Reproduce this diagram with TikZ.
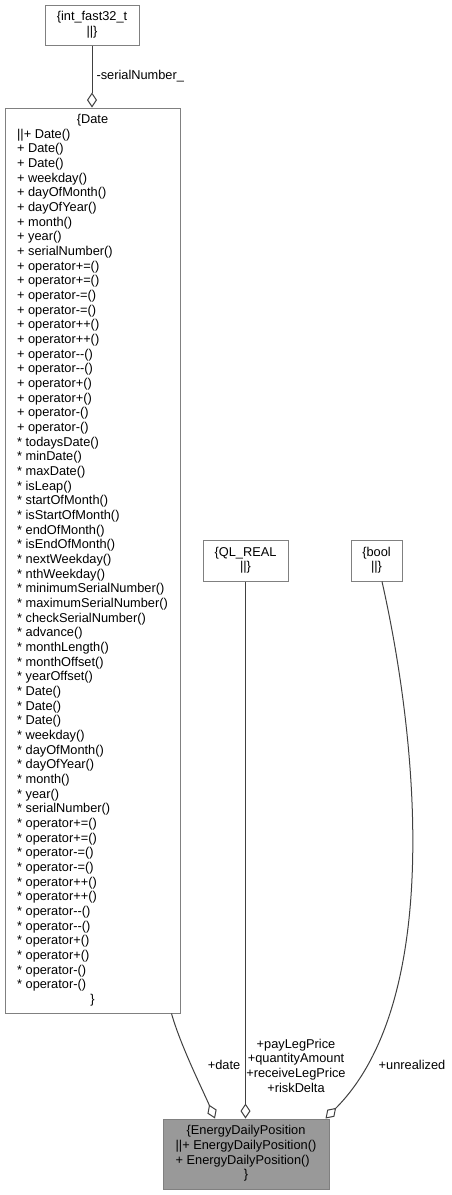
\documentclass[tikz,border=0pt]{standalone}
\usepackage{fontspec}
\setmainfont{Liberation Sans}
\usetikzlibrary{arrows.meta}
\definecolor{boxline}{HTML}{808080}
\definecolor{edgeline}{HTML}{404040}
\definecolor{focusfill}{HTML}{999999}
% keeps "--" from turning into an en dash
\newcommand\decr{-\kern0pt-}
% a leading star that the preceding \\ does not swallow
\newcommand\st{\relax*}
% centred first/last row inside a left-aligned member list
\newcommand\crow[1]{\multicolumn{1}{@{}c@{}}{#1}}
\begin{document}
\begin{tikzpicture}[x=1pt,y=-1pt,
  every node/.style={font=\fontsize{12.8}{14.67}\selectfont, text=black},
  classbox/.style={draw=boxline, line width=1pt, fill=white, inner sep=0pt},
  relation/.style={draw=edgeline, line width=1pt,
    -{Diamond[length=15pt,width=10pt,fill=white]}},
  rolelabel/.style={align=center, inner sep=0pt}
]
\useasboundingbox (0,0) rectangle (451,1195);

% classes
\node[classbox, minimum width=94pt, minimum height=40pt] (intf) at (92,25)
  {\begin{tabular}{@{}c@{}}\{int\_fast32\_t\\||\}\end{tabular}};

\node[classbox, minimum width=175pt, minimum height=905pt] (date) at (92.5,560.5)
  {\begin{tabular}{@{}l@{}}
  \crow{\{Date}\\
  ||+ Date()\\
  + Date()\\
  + Date()\\
  + weekday()\\
  + dayOfMonth()\\
  + dayOfYear()\\
  + month()\\
  + year()\\
  + serialNumber()\\
  + operator+=()\\
  + operator+=()\\
  + operator-=()\\
  + operator-=()\\
  + operator++()\\
  + operator++()\\
  + operator\decr()\\
  + operator\decr()\\
  + operator+()\\
  + operator+()\\
  + operator-()\\
  + operator-()\\
  \st{} todaysDate()\\
  \st{} minDate()\\
  \st{} maxDate()\\
  \st{} isLeap()\\
  \st{} startOfMonth()\\
  \st{} isStartOfMonth()\\
  \st{} endOfMonth()\\
  \st{} isEndOfMonth()\\
  \st{} nextWeekday()\\
  \st{} nthWeekday()\\
  \st{} minimumSerialNumber()\\
  \st{} maximumSerialNumber()\\
  \st{} checkSerialNumber()\\
  \st{} advance()\\
  \st{} monthLength()\\
  \st{} monthOffset()\\
  \st{} yearOffset()\\
  \st{} Date()\\
  \st{} Date()\\
  \st{} Date()\\
  \st{} weekday()\\
  \st{} dayOfMonth()\\
  \st{} dayOfYear()\\
  \st{} month()\\
  \st{} year()\\
  \st{} serialNumber()\\
  \st{} operator+=()\\
  \st{} operator+=()\\
  \st{} operator-=()\\
  \st{} operator-=()\\
  \st{} operator++()\\
  \st{} operator++()\\
  \st{} operator\decr()\\
  \st{} operator\decr()\\
  \st{} operator+()\\
  \st{} operator+()\\
  \st{} operator-()\\
  \st{} operator-()\\
  \crow{\}}
  \end{tabular}};

\node[classbox, minimum width=85pt, minimum height=41pt] (qlreal) at (245.5,560.5)
  {\begin{tabular}{@{}c@{}}\{QL\_REAL\\||\}\end{tabular}};

\node[classbox, minimum width=51pt, minimum height=41pt] (bool) at (376.5,560.5)
  {\begin{tabular}{@{}c@{}}\{bool\\||\}\end{tabular}};

\node[classbox, fill=focusfill, minimum width=166pt, minimum height=70pt] (edp) at (246,1154)
  {\begin{tabular}{@{}l@{}}
  \crow{\{EnergyDailyPosition}\\
  ||+ EnergyDailyPosition()\\
  + EnergyDailyPosition()\\
  \crow{\}}
  \end{tabular}};

% aggregations
\draw[relation] (intf.south) -- node[right, pos=0.5, inner sep=4pt] (lblserial) {-serialNumber\_}
  (intf.south |- date.north);

\draw[relation] ([xshift=-9pt]date.south east)
  .. controls +(9,32) and +(-12,-28) .. ([xshift=-31pt]edp.north);

\draw[relation] (qlreal.south) -- (qlreal.south |- edp.north);

\draw[relation] ([xshift=5.5pt]bool.south)
  .. controls +(38,169) and +(115,-115) .. ([xshift=-4pt]edp.north east);

% role names
\node[rolelabel] (lbldate) at (224,1065) {+date};
\node[rolelabel] (lblprices) at (296,1065.5)
  {+payLegPrice\\+quantityAmount\\+receiveLegPrice\\+riskDelta};
\node[rolelabel] (lblunreal) at (412,1065) {+unrealized};
\end{tikzpicture}
\end{document}
